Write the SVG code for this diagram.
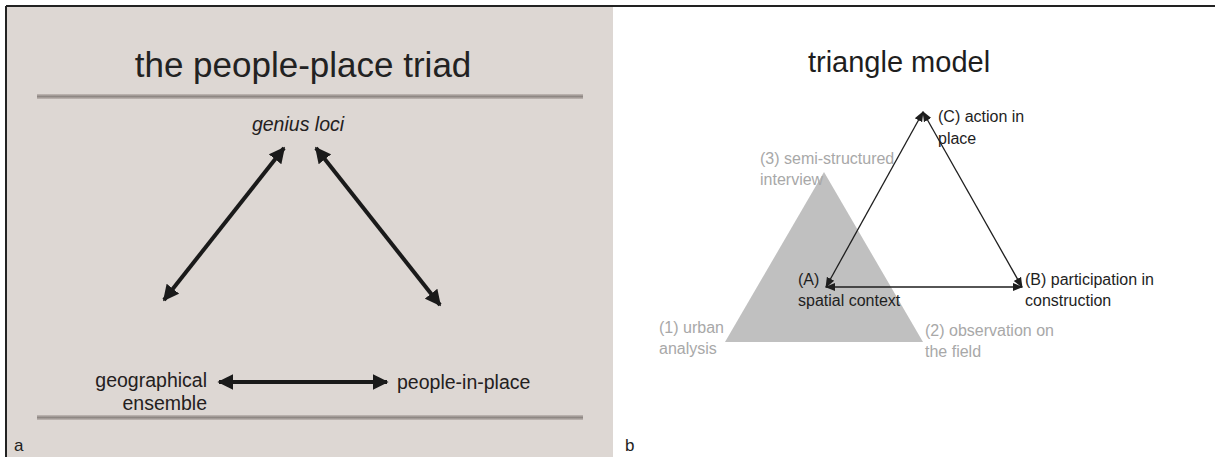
<svg xmlns="http://www.w3.org/2000/svg" width="1215" height="457" viewBox="0 0 1215 457">
<style>
text{font-family:"Liberation Sans",Arial,sans-serif}
.ta{font-size:19.5px;fill:#242020}
.tb{font-size:16px;fill:#1e1e1e}
.tg{font-size:16px;fill:#a8a8a8}
.thick{stroke:#1a1a1a;stroke-width:4;fill:none}
.thin{stroke:#1e1e1e;stroke-width:1.3;fill:none}
</style>
<defs>
<linearGradient id="bar" x1="0" y1="0" x2="0" y2="1">
<stop offset="0" stop-color="#c2bab6"/>
<stop offset="0.5" stop-color="#8e8783"/>
<stop offset="1" stop-color="#c2bab6"/>
</linearGradient>
<marker id="hBig" viewBox="0 0 10 10" refX="9" refY="5" markerWidth="4" markerHeight="4" markerUnits="strokeWidth" orient="auto-start-reverse">
<path d="M0,0 L10,5 L0,10 Z" fill="#1a1a1a"/>
</marker>
<marker id="hSmall" viewBox="0 0 10 10" refX="9" refY="5" markerWidth="8" markerHeight="8" markerUnits="strokeWidth" orient="auto-start-reverse">
<path d="M0,1 L10,5 L0,9 Z" fill="#1e1e1e"/>
</marker>
</defs>
<rect x="0" y="0" width="1215" height="457" fill="#ffffff"/>
<rect x="7" y="7" width="606" height="450" fill="#ddd7d3"/>
<line x1="6" y1="6" x2="1215" y2="6" stroke="#222" stroke-width="2"/>
<line x1="6" y1="6" x2="6" y2="457" stroke="#222" stroke-width="2"/>

<g id="panel-a">
<text x="303" y="77" text-anchor="middle" style="font-size:35px;fill:#222">the people-place triad</text>
<rect x="37" y="94" width="546" height="5" fill="url(#bar)"/>
<rect x="37" y="415" width="546" height="5" fill="url(#bar)"/>
<text x="14" y="451" style="font-size:17px;fill:#222">a</text>
</g>
<g id="node-genius-loci"><text class="ta" x="298" y="131" text-anchor="middle" font-style="italic">genius loci</text></g>
<g id="node-geographical-ensemble">
<text class="ta" x="207" y="387" text-anchor="end">geographical</text>
<text class="ta" x="207" y="410" text-anchor="end">ensemble</text>
</g>
<g id="node-people-in-place"><text class="ta" x="397" y="389">people-in-place</text></g>
<g id="connectors-a">
<line class="thick" x1="284" y1="148" x2="164" y2="300" marker-start="url(#hBig)" marker-end="url(#hBig)"/>
<line class="thick" x1="316" y1="148" x2="440" y2="305" marker-start="url(#hBig)" marker-end="url(#hBig)"/>
<line class="thick" x1="219" y1="382" x2="387" y2="382" marker-start="url(#hBig)" marker-end="url(#hBig)"/>
</g>

<g id="panel-b">
<text x="899" y="72" text-anchor="middle" style="font-size:29px;fill:#1e1e1e">triangle model</text>
<text x="625" y="451" style="font-size:17px;fill:#222">b</text>
</g>
<g id="node-methods-triangle"><polygon points="824,172 725,342 923,342" fill="#c0c0c0"/></g>
<g id="node-semi-structured"><text class="tg" x="760" y="164">(3) semi-structured</text><text class="tg" x="760" y="185">interview</text></g>
<g id="node-urban"><text class="tg" x="659" y="333">(1) urban</text><text class="tg" x="659" y="354">analysis</text></g>
<g id="node-observation"><text class="tg" x="925" y="336">(2) observation on</text><text class="tg" x="925" y="357">the field</text></g>
<g id="node-C"><text class="tb" x="938" y="122">(C) action in</text><text class="tb" x="938" y="144">place</text></g>
<g id="node-A"><text class="tb" x="798" y="285">(A)</text><text class="tb" x="798" y="306">spatial context</text></g>
<g id="node-B"><text class="tb" x="1025" y="285">(B) participation in</text><text class="tb" x="1025" y="306">construction</text></g>
<g id="connectors-b">
<line class="thin" x1="923" y1="112" x2="826" y2="287" marker-start="url(#hSmall)" marker-end="url(#hSmall)"/>
<line class="thin" x1="923" y1="112" x2="1022" y2="287" marker-start="url(#hSmall)" marker-end="url(#hSmall)"/>
<line class="thin" x1="826" y1="287" x2="1022" y2="287" marker-start="url(#hSmall)" marker-end="url(#hSmall)"/>
</g>
</svg>
